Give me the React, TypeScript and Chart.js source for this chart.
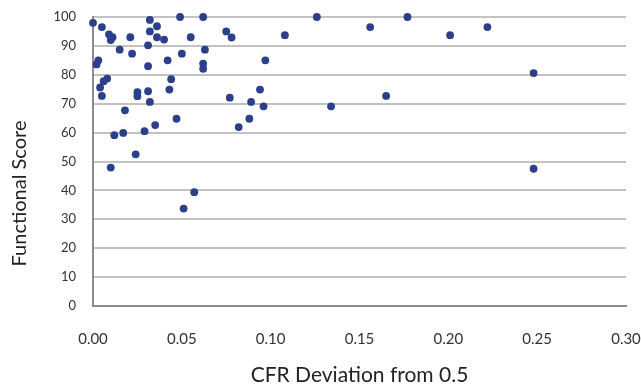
import React, { useEffect, useRef } from "react";
import { Chart, registerables } from "chart.js";

Chart.register(...registerables);

const xValues = [
  0.0, 0.005, 0.009, 0.011, 0.01, 0.021, 0.032, 0.036, 0.032, 0.036, 0.04,
  0.049, 0.062, 0.055, 0.063, 0.015, 0.022, 0.031, 0.05, 0.003, 0.002, 0.042,
  0.031, 0.062, 0.062, 0.008, 0.006, 0.004, 0.005, 0.044, 0.043, 0.025, 0.025,
  0.031, 0.032, 0.018, 0.047, 0.035, 0.029, 0.017, 0.012, 0.024, 0.01, 0.057,
  0.051, 0.075, 0.078, 0.108, 0.126, 0.156, 0.177, 0.097, 0.077, 0.094, 0.089,
  0.096, 0.134, 0.165, 0.088, 0.082, 0.201, 0.222, 0.248, 0.248,
];
const yValues = [
  98, 96.5, 94, 93, 92, 93, 99, 96.8, 95, 93, 92.2,
  100, 100, 93, 88.7, 88.7, 87.3, 90.2, 87.3, 85, 83.6, 85,
  83, 83.9, 82.1, 78.7, 77.8, 75.6, 72.7, 78.5, 74.9, 74, 72.6,
  74.3, 70.6, 67.7, 64.8, 62.6, 60.5, 59.9, 59.1, 52.5, 47.9, 39.4,
  33.7, 95, 92.9, 93.7, 100, 96.5, 100, 85, 72.1, 74.9, 70.6,
  69.1, 69.1, 72.7, 64.8, 61.9, 93.7, 96.5, 80.6, 47.5,
];

const xTitle = "CFR Deviation from 0.5";
const yTitle = "Functional Score";

const FONT = "Lato, 'Open Sans', sans-serif";

const yTitlePlugin = {
  id: "yTitleOffset",
  afterDraw(chart: any) {
    const { ctx, chartArea } = chart;
    ctx.save();
    ctx.translate(20, (chartArea.top + chartArea.bottom) / 2 + 32);
    ctx.rotate(-Math.PI / 2);
    ctx.font = `20px ${FONT}`;
    ctx.fillStyle = "#222";
    ctx.textAlign = "center";
    ctx.textBaseline = "middle";
    ctx.fillText(yTitle, 0, 0);
    ctx.restore();
  },
};

export default function App() {
  const ref = useRef<HTMLCanvasElement>(null);
  useEffect(() => {
    if (!ref.current) return;
    const data = xValues.map((x, i) => ({ x, y: yValues[i] }));
    const chart = new Chart(ref.current, {
      type: "scatter",
      data: {
        datasets: [
          {
            data,
            backgroundColor: "#2c3f8c",
            borderWidth: 0,
            pointRadius: 3.9,
            pointHoverRadius: 3.9,
            clip: false as any,
          },
        ],
      },
      plugins: [yTitlePlugin],
      options: {
        responsive: false,
        animation: false,
        layout: { padding: { top: 17, right: 15, left: 0, bottom: 0 } },
        plugins: { legend: { display: false }, tooltip: { enabled: false } },
        scales: {
          x: {
            type: "linear",
            min: 0,
            max: 0.3,
            afterFit: (s: any) => {
              s.height = 82;
              s.paddingLeft = 0;
              s.paddingRight = 0;
            },
            ticks: {
              stepSize: 0.05,
              padding: 16,
              color: "#333",
              font: { family: FONT, size: 15 },
              callback: (v: any) => Number(v).toFixed(2),
            },
            grid: { display: false },
            border: { display: true, color: "#8c8c8c", width: 2 },
            title: {
              display: true,
              text: xTitle,
              color: "#222",
              font: { family: FONT, size: 21 },
              padding: { top: 0, bottom: 0 },
            },
          },
          y: {
            type: "linear",
            min: 0,
            max: 100,
            afterFit: (s: any) => {
              s.width = 93;
              s.paddingTop = 0;
              s.paddingBottom = 0;
            },
            ticks: {
              stepSize: 10,
              padding: 17,
              color: "#333",
              font: { family: FONT, size: 13 },
            },
            grid: { display: true, color: "#c2c2c2", lineWidth: 2, drawTicks: false },
            border: { display: true, color: "#8c8c8c", width: 2 },
          },
        },
      },
    });
    return () => chart.destroy();
  }, []);
  return (
    <div style={{ position: "fixed", left: 0, top: 0, width: 641, height: 388, background: "#fff" }}>
      <canvas ref={ref} width={641} height={388} />
    </div>
  );
}
